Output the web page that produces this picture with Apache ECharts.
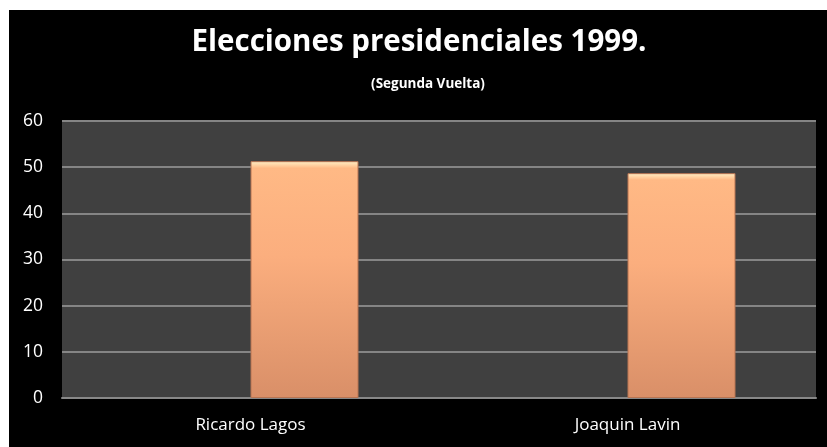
<!DOCTYPE html>
<html><head><meta charset="utf-8">
<script src="https://cdn.jsdelivr.net/npm/echarts@6/dist/echarts.min.js"></script>
<style>html,body{margin:0;padding:0;background:#fff}#c{width:827px;height:447px}</style>
</head><body><div id="c"></div>
<script>
const categories = ['Ricardo Lagos', 'Joaquin Lavin'];
const emptySeries = [null, null];
const votes = [51.3, 48.7];
const yTicks = {min: 0, max: 60, interval: 10};
const titleText = 'Elecciones presidenciales 1999.';
const subtitleText = '(Segunda Vuelta)';

const chart = echarts.init(document.getElementById('c'), null, {renderer: 'canvas'});
const font = '"Open Sans", "Noto Sans", sans-serif';
const barColor = new echarts.graphic.LinearGradient(0, 0, 0, 1, [
  {offset: 0, color: '#FFF2C8'},
  {offset: 0.03, color: '#FFB985'},
  {offset: 0.4, color: '#FBAE7E'},
  {offset: 1, color: '#D98F68'}
]);
chart.setOption({
  backgroundColor: '#fff',
  animation: false,
  graphic: [{type: 'rect', z: -100, silent: true, shape: {x: 9, y: 10, width: 818, height: 437}, style: {fill: '#000'}}],
  title: [
    {text: titleText, left: 414, top: 23, textAlign: 'center',
     textStyle: {color: '#fff', fontFamily: font, fontWeight: 'bold', fontSize: 29.5}},
    {text: subtitleText, left: 423, top: 72, textAlign: 'center',
     textStyle: {color: '#fff', fontFamily: font, fontWeight: 'bold', fontSize: 13.5}}
  ],
  grid: {left: 62, right: 11, top: 121, bottom: 49, show: true, backgroundColor: '#404040', borderWidth: 0},
  xAxis: {
    type: 'category', data: categories,
    axisLine: {show: true, lineStyle: {color: '#888', width: 2}},
    axisTick: {show: false},
    axisLabel: {color: '#fff', fontFamily: font, fontSize: 17, margin: 19}
  },
  yAxis: {
    type: 'value', min: yTicks.min, max: yTicks.max, interval: yTicks.interval,
    axisLine: {show: false}, axisTick: {show: false},
    splitLine: {lineStyle: {color: '#858585', width: 2}},
    axisLabel: {color: '#fff', fontFamily: font, fontSize: 17.5, margin: 19}
  },
  series: [
    {type: 'bar', data: emptySeries, barWidth: 108, barGap: '0%'},
    {type: 'bar', data: votes, barWidth: 108, barGap: '0%',
     itemStyle: {color: barColor, borderColor: '#B87452', borderWidth: 1}}
  ]
});
</script></body></html>
